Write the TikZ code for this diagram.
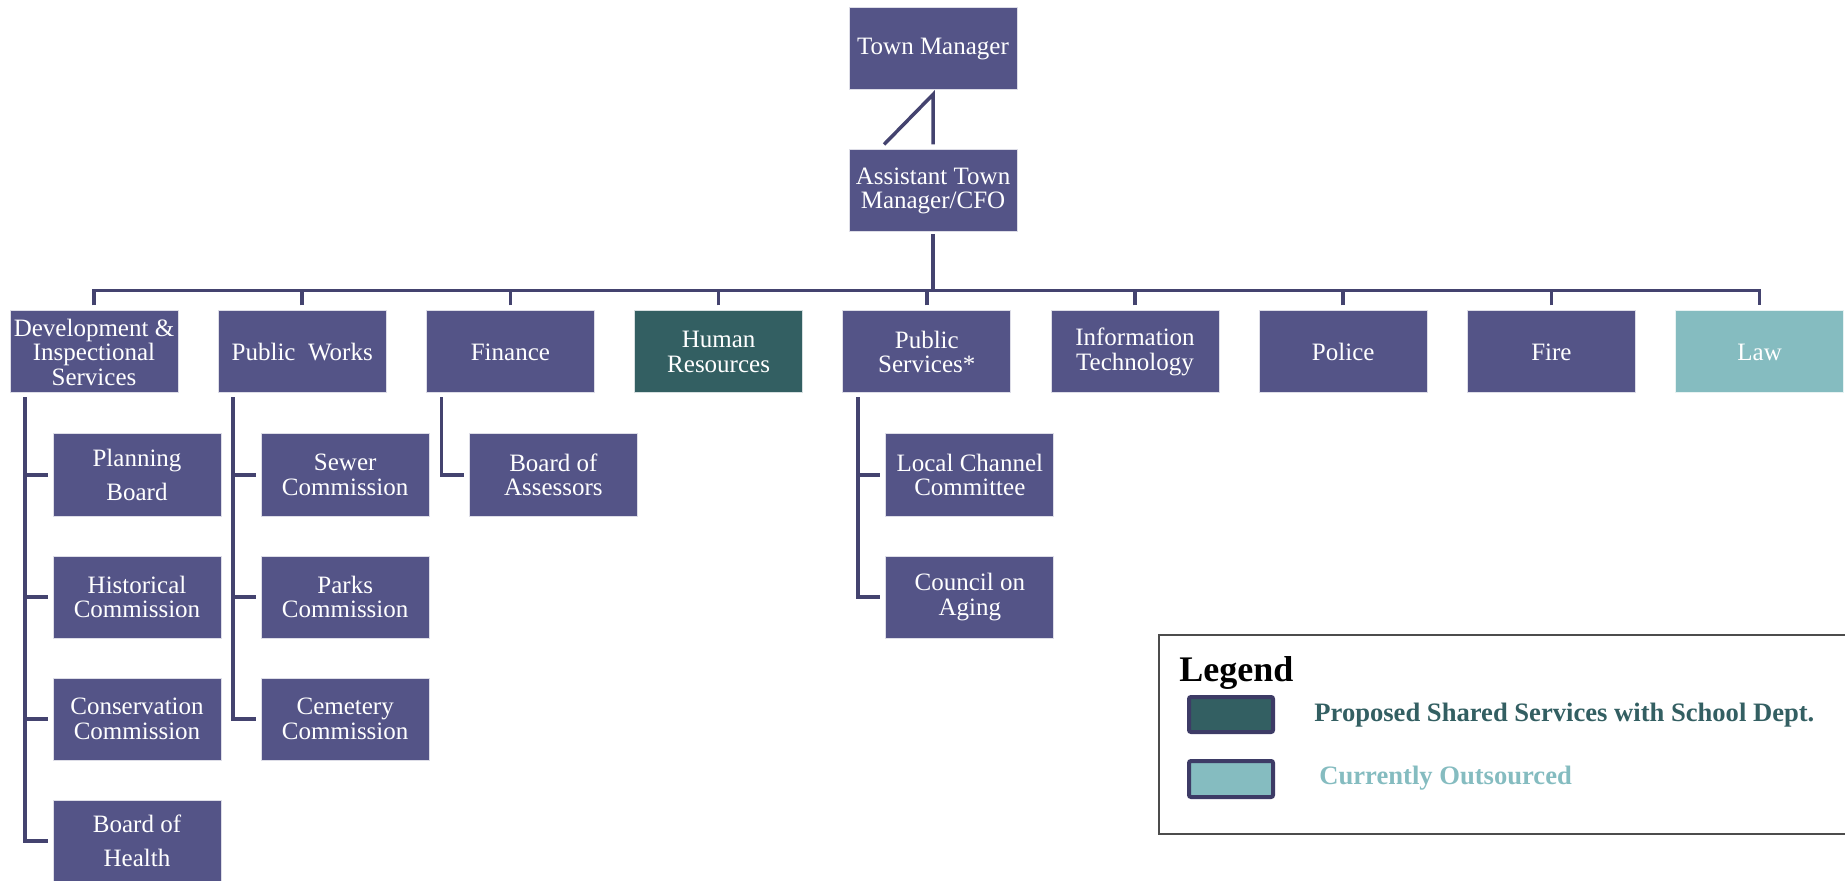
\documentclass[tikz,border=0pt]{standalone}
\usepackage{fontspec}
\setmainfont{Liberation Serif}
\usetikzlibrary{calc}

\definecolor{boxpurple}{HTML}{545487}
\definecolor{linenavy}{HTML}{44436F}
\definecolor{shareteal}{HTML}{335F62}
\definecolor{outteal}{HTML}{85BCC0}
\definecolor{swatchedge}{HTML}{3D3B66}

\tikzset{
  orgbox/.style={fill=boxpurple, draw=white!80!boxpurple, line width=0.5pt,
    minimum width=84pt, minimum height=41pt, inner sep=0pt, text=white,
    align=center, font=\fontsize{12.5}{12.25}\selectfont},
  sharedbox/.style={orgbox, fill=shareteal, draw=white!80!shareteal},
  outbox/.style={orgbox, fill=outteal, draw=white!80!outteal},
  link/.style={draw=linenavy, line width=1.75pt},
  swatch/.style={draw=swatchedge, line width=2pt, rounded corners=1pt},
  legendtext/.style={font=\fontsize{13.3}{16}\selectfont\bfseries, anchor=base west, inner sep=0pt},
}

\begin{document}
\begin{tikzpicture}[x=0.5pt, y=-0.5pt]
\useasboundingbox (0,0) rectangle (1845,881);

% top of the hierarchy
\node[orgbox] (tm) at (933,49) {Town Manager};
\node[orgbox] (asst) at (933,191) {Assistant Town\\Manager/CFO};

% departments
\node[orgbox]    (dev)    at (94,352)     {Development \&\\Inspectional\\Services};
\node[orgbox]    (pw)     at (302.2,352)  {Public~~Works};
\node[orgbox]    (fin)    at (510.4,352)  {Finance};
\node[sharedbox] (hr)     at (718.6,352)  {Human\\Resources};
\node[orgbox]    (ps)     at (926.8,352)  {Public\\Services*};
\node[orgbox]    (it)     at (1135,352)   {Information\\Technology};
\node[orgbox]    (police) at (1343.2,352) {Police};
\node[orgbox]    (fire)   at (1551.4,352) {Fire};
\node[outbox]    (law)    at (1759.6,352) {Law};

% boards and commissions
\node[orgbox] (plan)  at (137,475)   {Planning\\[5pt]Board};
\node[orgbox] (hist)  at (137,597)   {Historical\\Commission};
\node[orgbox] (cons)  at (137,719)   {Conservation\\Commission};
\node[orgbox] (boh)   at (137,841)   {Board of\\[5pt]Health};
\node[orgbox] (sewer) at (345.2,475) {Sewer\\Commission};
\node[orgbox] (parks) at (345.2,597) {Parks\\Commission};
\node[orgbox] (cem)   at (345.2,719) {Cemetery\\Commission};
\node[orgbox] (assess) at (553.4,475) {Board of\\Assessors};
\node[orgbox] (lcc)   at (969.8,475) {Local Channel\\Committee};
\node[orgbox] (coa)   at (969.8,597) {Council on\\Aging};

% manager to assistant
\draw[link, line join=miter] ($(asst.north)+(-49,-5)$) -- ($(tm.south)+(0,4)$) -- ($(asst.north)+(0,-5)$);

% assistant down to the department bus
\draw[link] ($(asst.south)+(0,2)$) -- ++(0,58);
\draw[link] ($(dev.north)+(0,-5)$) -- ($(dev.north)+(0,-20)$) -- ($(law.north)+(0,-20)$) -- ($(law.north)+(0,-5)$);
\foreach \d in {pw,fin,hr,ps,it,police,fire}
  \draw[link] ($(\d.north)+(0,-5)$) -- ($(\d.north)+(0,-20)$);

% department spines to their boards
\foreach \p/\c in {dev/plan,dev/hist,dev/cons,dev/boh,pw/sewer,pw/parks,pw/cem,fin/assess,ps/lcc,ps/coa}
  \draw[link] ($(\p.south)+(-69,4)$) |- ($(\c.west)+(-5,0)$);

% legend
\draw[draw=black!70, line width=1pt] (1159,635) rectangle (1850,834);
\node[anchor=base west, inner sep=0pt, font=\fontsize{18}{20}\selectfont\bfseries] (legtitle) at (1179,681) {Legend};
\draw[swatch, fill=shareteal] (1189,697) rectangle (1273,732);
\draw[swatch, fill=outteal] (1189,761) rectangle (1273,797);
\node[legendtext, text=shareteal] (legshared) at (1314,721) {Proposed Shared Services with School Dept.};
\node[legendtext, text=outteal] (legout) at (1319,784) {Currently Outsourced};
\end{tikzpicture}
\end{document}
